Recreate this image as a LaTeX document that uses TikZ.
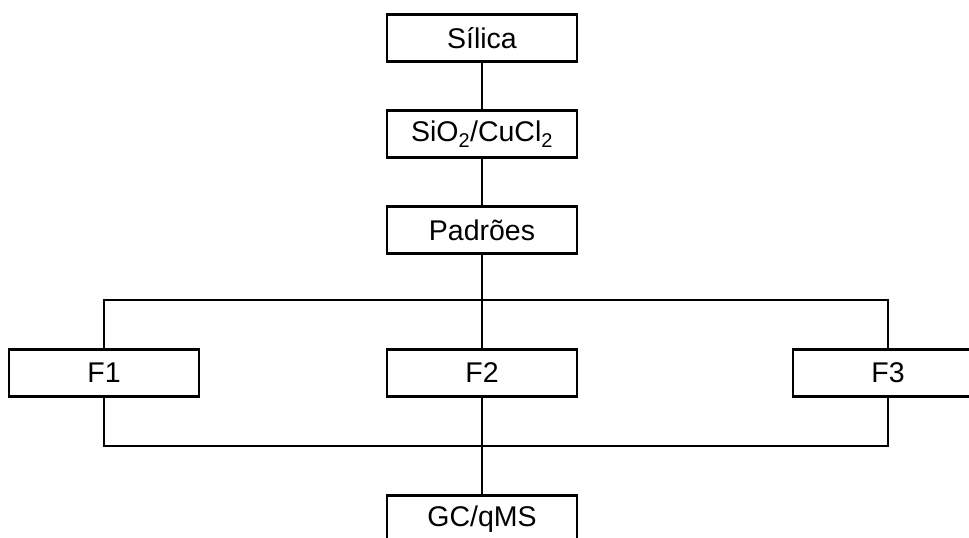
\documentclass[tikz,border=0pt]{standalone}
\usepackage{fontspec}
\setmainfont{Liberation Sans}
\usetikzlibrary{positioning}

\begin{document}
\begin{tikzpicture}[
        x=1pt,y=-1pt,
        link/.style={line width=2.2pt},
        stage/.style={draw,line width=2.2pt,minimum width=190pt,minimum height=47pt,
          inner sep=0pt,font=\fontsize{28.5}{32}\selectfont,fill=white}
      ]
        \useasboundingbox (0,0) rectangle (969,538);

        \node[stage] (silica) at (482,38) {Sílica};
        \node[stage] (sio) at (482,134) {SiO\textsubscript{2}/CuCl\textsubscript{2}};
        \node[stage] (padroes) at (482,230) {Padrões};

        \node[stage] (f1) at (104,373) {F1};
        \node[stage] (f2) at (482,373) {F2};
        \node[stage] (f3) at (888,373) {F3};

        \node[stage] (gc) at (482,519) {GC/qMS};

        \coordinate (split) at (482,300);
        \coordinate (merge) at (482,446);

        \draw[link] (silica.south) -- (sio.north);
        \draw[link] (sio.south) -- (padroes.north);
        \draw[link] (padroes.south) -- (f2.north);
        \draw[link] (f1.north) |- (split) -| (f3.north);
        \draw[link] (f2.south) -- (gc.north);
        \draw[link] (f1.south) |- (merge) -| (f3.south);
      \end{tikzpicture}
\end{document}
